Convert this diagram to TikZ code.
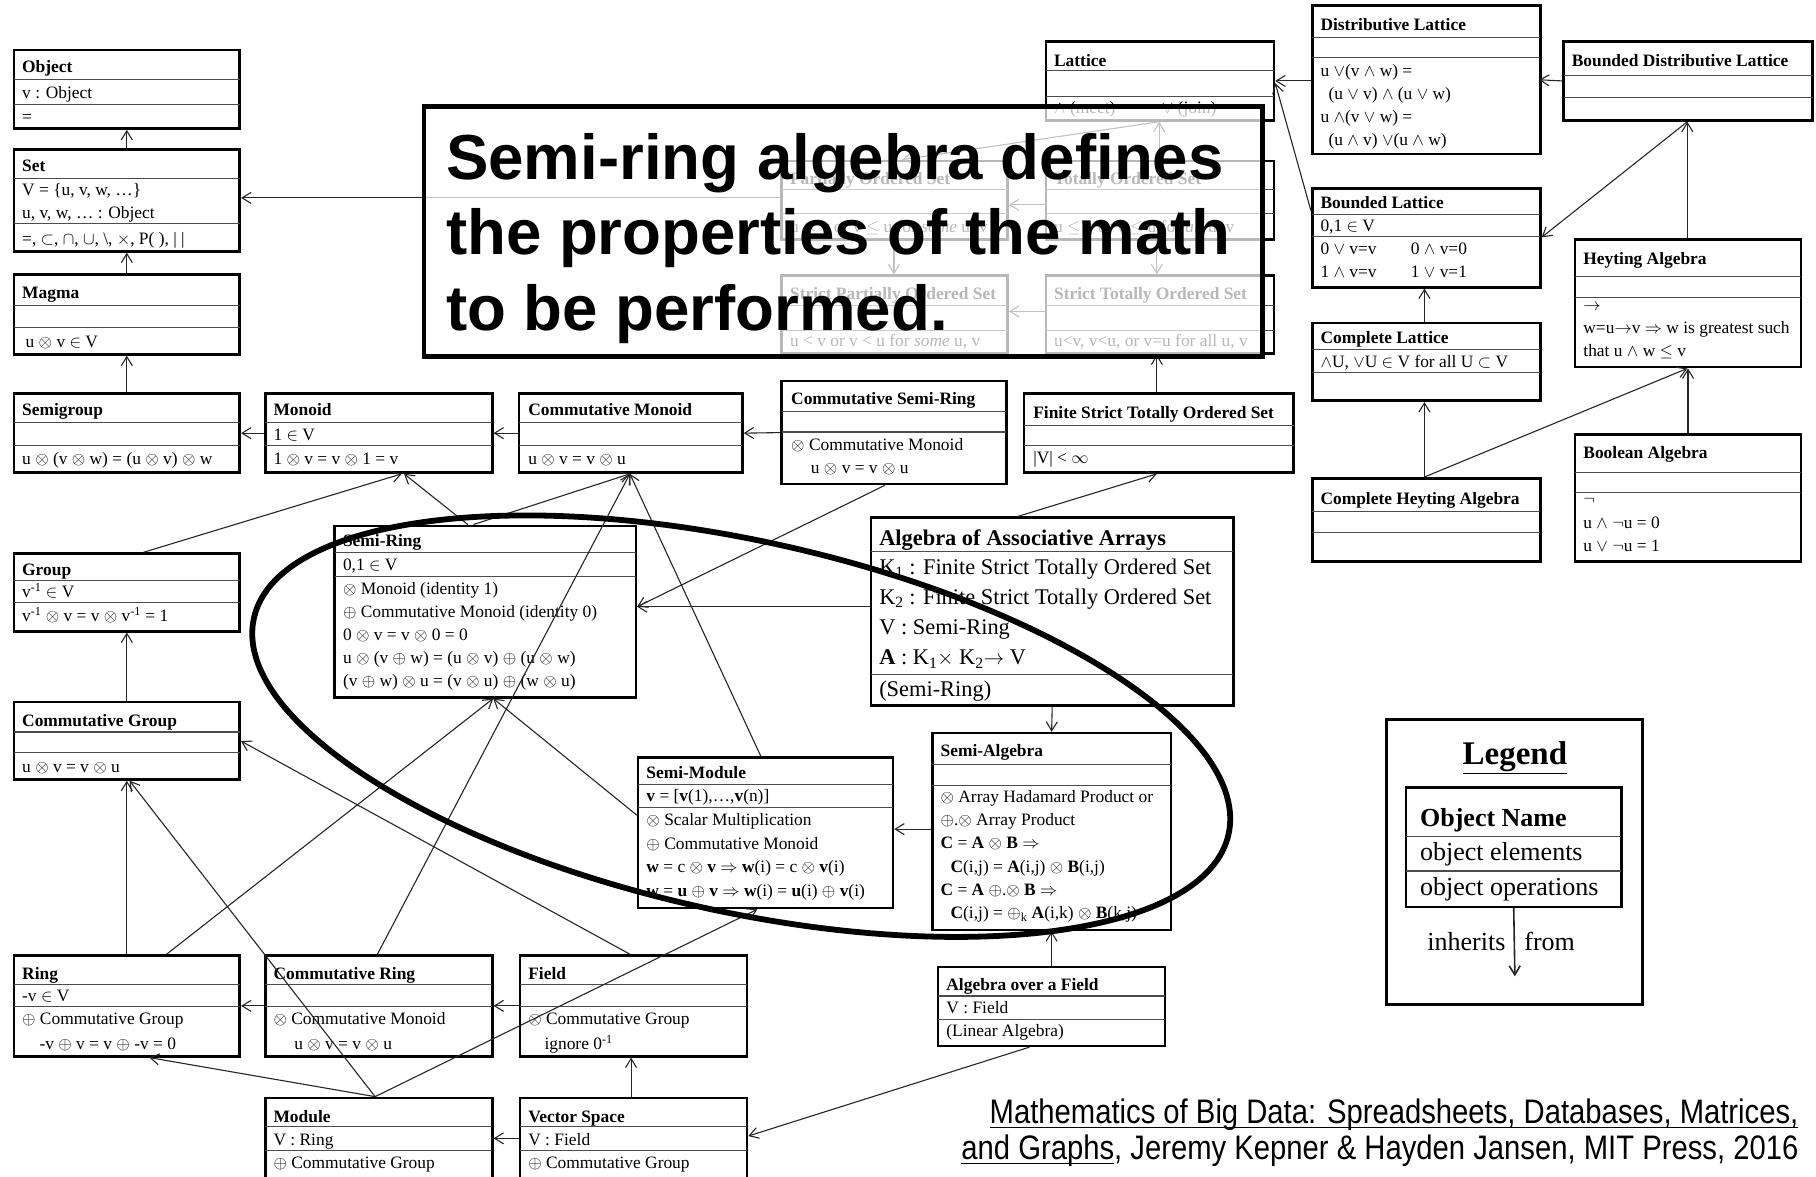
\documentclass[tikz,border=0pt]{standalone}
\usepackage{fontspec}
\setmainfont{Liberation Serif}
\newfontfamily\notefont{Liberation Sans}
\newfontfamily\citefont[FakeStretch=0.86]{Liberation Sans}
\usetikzlibrary{arrows.meta,fit,calc}

% type sizes
\newcommand\fttl{\fontsize{17.4}{20}\selectfont\bfseries}
\newcommand\ftxt{\fontsize{17.4}{20}\selectfont}
\newcommand\fbigttl{\fontsize{22.4}{26}\selectfont\bfseries}
\newcommand\fbig{\fontsize{22.4}{26}\selectfont}
\newcommand\fnote{\notefont\bfseries\fontsize{63.6}{75}\selectfont}
\newcommand\fcite{\citefont\fontsize{34}{36}\selectfont}
\newcommand\flegttl{\fontsize{33}{36}\selectfont\bfseries}
\newcommand\fleg{\fontsize{26}{30}\selectfont}

% underline drawn at a fixed depth below the baseline
\newsavebox\ulinebox
\newcommand\ultext[1]{\sbox\ulinebox{#1}\rlap{\rule[-5pt]{\wd\ulinebox}{1.6pt}}\usebox\ulinebox}

% class box: name, x1, y1, x2, y2, first divider, second divider
\newcommand\ubox[7]{%
  \node[umlframe, fit={(#2,#3) (#4,#5)}] (#1) {};
  \draw[divider] (#2,#6) -- (#4,#6) (#2,#7) -- (#4,#7);}
% stacked text lines: [style] name, x, first baseline, line step, list of lines
\newcommand\rows[6][row]{%
  \foreach \rowtext [count=\ri] in {#6}
    {\node[#1] (#2-\ri) at (#3,{#4+#5*(\ri-1)}) {\rowtext};}}

\begin{document}
\begin{tikzpicture}[x=1.1582pt,y=-1.1582pt,
  umlframe/.style={draw=black, line width=2.6pt, inner sep=0pt},
  divider/.style={draw=black!70, line width=1.1pt},
  ttl/.style={anchor=base west, inner sep=0pt, font=\fttl},
  row/.style={anchor=base west, inner sep=0pt, font=\ftxt},
  bigttl/.style={anchor=base west, inner sep=0pt, font=\fbigttl},
  bigrow/.style={anchor=base west, inner sep=0pt, font=\fbig},
  inh/.style={draw=black!85, line width=1.1pt, -{Straight Barb[length=9pt,width=11pt]}},
  notetext/.style={anchor=base west, inner sep=0pt, font=\fnote},
  citetext/.style={anchor=base east, inner sep=0pt, font=\fcite},
]
\path[use as bounding box, fill=white] (0,0) rectangle (1568,1016);
\clip (0,0) rectangle (1568,1016);

% ---------------- left column ----------------
\ubox{obj}{12}{43}{207}{111}{69}{90}
\node[ttl] (obj-t) at (19,63) {Object};
\node[row] (obj-e) at (19,85) {v : Object};
\node[row] (obj-o) at (19,106) {=};

\ubox{set}{12}{129}{207}{217}{154}{193}
\node[ttl] (set-t) at (19,148) {Set};
\rows{set-e}{19}{169}{20}{{V = \{u, v, w, \dots\}}, {u, v, w, \dots{} : Object}}
\node[row] (set-o) at (19,211) {=, $\subset$, $\cap$, $\cup$, \textbackslash, $\times$, P( ), | |};

\ubox{magma}{12}{237}{207}{306}{264}{283}
\node[ttl] (magma-t) at (19,258) {Magma};
\node[row] (magma-o) at (22,300) {u $\otimes$ v $\in$ V};

\ubox{sgroup}{12}{340}{207}{408}{365}{385}
\node[ttl] (sgroup-t) at (19,359) {Semigroup};
\node[row] (sgroup-o) at (19,401) {u $\otimes$ (v $\otimes$ w) = (u $\otimes$ v) $\otimes$ w};

\ubox{group}{12}{478}{207}{545}{501}{520}
\node[ttl] (group-t) at (19,497) {Group};
\node[row] (group-e) at (19,516) {v\textsuperscript{-1} $\in$ V};
\node[row] (group-o) at (19,537) {v\textsuperscript{-1} $\otimes$ v = v $\otimes$ v\textsuperscript{-1} = 1};

\ubox{cgroup}{12}{606}{207}{673}{632}{650}
\node[ttl] (cgroup-t) at (19,627) {Commutative Group};
\node[row] (cgroup-o) at (19,667) {u $\otimes$ v = v $\otimes$ u};

\ubox{ring}{12}{825}{207}{912}{850}{869}
\node[ttl] (ring-t) at (19,846) {Ring};
\node[row] (ring-e) at (19,865) {-v $\in$ V};
\node[row] (ring-o1) at (19,885) {$\oplus$ Commutative Group};
\node[row] (ring-o2) at (34,906) {-v $\oplus$ v = v $\oplus$ -v = 0};

% ---------------- monoid row ----------------
\ubox{monoid}{229}{340}{425}{408}{365}{385}
\node[ttl] (monoid-t) at (236,359) {Monoid};
\node[row] (monoid-e) at (236,380) {1 $\in$ V};
\node[row] (monoid-o) at (236,401) {1 $\otimes$ v = v $\otimes$ 1 = v};

\ubox{cmon}{448}{340}{641}{408}{365}{385}
\node[ttl] (cmon-t) at (456,359) {Commutative Monoid};
\node[row] (cmon-o) at (456,401) {u $\otimes$ v = v $\otimes$ u};

\ubox{csr}{675}{329}{869}{418}{355}{373}
\node[ttl] (csr-t) at (683,349) {Commutative Semi-Ring};
\node[row] (csr-o1) at (683,389) {$\otimes$ Commutative Monoid};
\node[row] (csr-o2) at (700,409) {u $\otimes$ v = v $\otimes$ u};

\ubox{fstos}{884}{340}{1117}{408}{367}{385}
\node[ttl] (fstos-t) at (892,361) {Finite Strict Totally Ordered Set};
\node[row] (fstos-o) at (892,400) {|V| < $\infty$};

% ---------------- semi-ring family ----------------
\ubox{sring}{289}{454}{549}{602}{477}{498}
\node[ttl] (sring-t) at (296,472) {Semi-Ring};
\node[row] (sring-e) at (296,493) {0,1 $\in$ V};
\rows{sring-o}{296}{513}{20}{{$\otimes$ Monoid (identity 1)}, {$\oplus$ Commutative Monoid (identity 0)}, {0 $\otimes$ v = v $\otimes$ 0 = 0}, {u $\otimes$ (v $\oplus$ w) = (u $\otimes$ v) $\oplus$ (u $\otimes$ w)}, {(v $\oplus$ w) $\otimes$ u = (v $\otimes$ u) $\oplus$ (w $\otimes$ u)}}

\ubox{aaa}{752}{447}{1065}{609}{476}{582}
\node[bigttl] (aaa-t) at (759,471) {Algebra of Associative Arrays};
\rows[bigrow]{aaa-e}{759}{496}{26}{{K\textsubscript{1} : Finite Strict Totally Ordered Set}, {K\textsubscript{2} : Finite Strict Totally Ordered Set}, {V : Semi-Ring}, {\textbf{A} : K\textsubscript{1}$\times$ K\textsubscript{2}$\rightarrow$ V}}
\node[bigrow] (aaa-o) at (759,601) {(Semi-Ring)};

\ubox{smod}{551}{654}{771}{784}{677}{697}
\node[ttl] (smod-t) at (558,672) {Semi-Module};
\node[row] (smod-e) at (558,692) {\textbf{v} = [\textbf{v}(1),\dots,\textbf{v}(n)]};
\rows{smod-o}{558}{713}{20.3}{{$\otimes$ Scalar Multiplication}, {$\oplus$ Commutative Monoid}, {\textbf{w} = c $\otimes$ \textbf{v} $\Rightarrow$ \textbf{w}(i) = c $\otimes$ \textbf{v}(i)}, {\textbf{w} = \textbf{u} $\oplus$ \textbf{v} $\Rightarrow$ \textbf{w}(i) = \textbf{u}(i) $\oplus$ \textbf{v}(i)}}

\ubox{salg}{805}{633}{1011}{803}{660}{678}
\node[ttl] (salg-t) at (812,653) {Semi-Algebra};
\rows{salg-o}{812}{693}{20}{{$\otimes$ Array Hadamard Product or}, {$\oplus$.$\otimes$ Array Product}, {\textbf{C} = \textbf{A} $\otimes$ \textbf{B} $\Rightarrow$}, {\hspace{10pt}\textbf{C}(i,j) = \textbf{A}(i,j) $\otimes$ \textbf{B}(i,j)}, {\textbf{C} = \textbf{A} $\oplus$.$\otimes$ \textbf{B} $\Rightarrow$}, {\hspace{10pt}\textbf{C}(i,j) = $\oplus$\textsubscript{k} \textbf{A}(i,k) $\otimes$ \textbf{B}(k,j)}}

\ubox{aof}{810}{835}{1006}{903}{860}{880}
\node[ttl] (aof-t) at (817,855) {Algebra over a Field};
\node[row] (aof-e) at (817,875) {V : Field};
\node[row] (aof-o) at (817,895) {(Linear Algebra)};

\ubox{cring}{229}{825}{425}{912}{850}{869}
\node[ttl] (cring-t) at (236,846) {Commutative Ring};
\node[row] (cring-o1) at (236,885) {$\otimes$ Commutative Monoid};
\node[row] (cring-o2) at (254,906) {u $\otimes$ v = v $\otimes$ u};

\ubox{field}{449}{825}{645}{912}{850}{869}
\node[ttl] (field-t) at (456,846) {Field};
\node[row] (field-o1) at (456,885) {$\otimes$ Commutative Group};
\node[row] (field-o2) at (470,906) {ignore 0\textsuperscript{-1}};

\ubox{module}{229}{948}{425}{1030}{973}{993}
\node[ttl] (module-t) at (236,969) {Module};
\node[row] (module-e) at (236,989) {V : Ring};
\node[row] (module-o) at (236,1009) {$\oplus$ Commutative Group};

\ubox{vspace}{449}{948}{645}{1030}{973}{993}
\node[ttl] (vspace-t) at (456,969) {Vector Space};
\node[row] (vspace-e) at (456,989) {V : Field};
\node[row] (vspace-o) at (456,1009) {$\oplus$ Commutative Group};

% ---------------- order / lattice family ----------------
\ubox{lattice}{903}{36}{1100}{104}{61}{83}
\node[ttl] (lattice-t) at (910,57) {Lattice};
\node[row] (lattice-o1) at (910,98) {$\wedge$ (meet)};
\node[row] (lattice-o2) at (1003,98) {$\vee$ (join)};

\ubox{poset}{675}{139}{870}{207}{164}{184}
\node[ttl] (poset-t) at (682,159) {Partially Ordered Set};
\node[row] (poset-o) at (682,201) {u $\leq$ v or v $\leq$ u for \textit{some} u, v};

\ubox{toset}{903}{139}{1100}{207}{164}{184}
\node[ttl] (toset-t) at (910,159) {Totally Ordered Set};
\node[row] (toset-o) at (910,201) {u $\leq$ v or v $\leq$ u for \textit{all} u, v};

\ubox{sposet}{675}{238}{870}{305}{264}{285}
\node[ttl] (sposet-t) at (682,259) {Strict Partially Ordered Set};
\node[row] (sposet-o) at (682,299) {u < v or v < u for \textit{some} u, v};

\ubox{stoset}{903}{238}{1100}{305}{264}{285}
\node[ttl] (stoset-t) at (910,259) {Strict Totally Ordered Set};
\node[row] (stoset-o) at (910,299) {u<v, v<u, or v=u for all u, v};

\ubox{dlat}{1133}{5}{1330}{133}{32}{50}
\node[ttl] (dlat-t) at (1140,26) {Distributive Lattice};
\rows{dlat-o}{1140}{66}{20}{{u $\vee$(v $\wedge$ w) =}, {\hspace{8pt}(u $\vee$ v) $\wedge$ (u $\vee$ w)}, {u $\wedge$(v $\vee$ w) =}, {\hspace{8pt}(u $\wedge$ v) $\vee$(u $\wedge$ w)}}

\ubox{bdlat}{1350}{36}{1565}{104}{65}{84}
\node[ttl] (bdlat-t) at (1357,57) {Bounded Distributive Lattice};

\ubox{blat}{1133}{163}{1330}{248}{185}{204}
\node[ttl] (blat-t) at (1140,180) {Bounded Lattice};
\node[row] (blat-e) at (1140,200) {0,1 $\in$ V};
\rows{blat-a}{1140}{220}{20}{{0 $\vee$ v=v}, {1 $\wedge$ v=v}}
\rows{blat-b}{1218}{220}{20}{{0 $\wedge$ v=0}, {1 $\vee$ v=1}}

\ubox{clat}{1133}{279}{1330}{346}{302}{322}
\node[ttl] (clat-t) at (1140,297) {Complete Lattice};
\node[row] (clat-e) at (1140,317) {$\wedge$U, $\vee$U $\in$ V for all U $\subset$ V};

\ubox{cha}{1133}{413}{1330}{485}{442}{460}
\node[ttl] (cha-t) at (1140,436) {Complete Heyting Algebra};

\ubox{heyt}{1360}{207}{1555}{317}{239}{257}
\node[ttl] (heyt-t) at (1367,228) {Heyting Algebra};
\rows{heyt-o}{1367}{268}{20}{{$\rightarrow$}, {w=u$\rightarrow$v $\Rightarrow$ w is greatest such}, {that u $\wedge$ w $\leq$ v}}

\ubox{bool}{1360}{375}{1555}{485}{408}{425}
\node[ttl] (bool-t) at (1367,396) {Boolean Algebra};
\rows{bool-o}{1367}{436}{20}{{$\neg$}, {u $\wedge$ $\neg$u = 0}, {u $\vee$ $\neg$u = 1}}

% ---------------- inheritance connectors ----------------
\draw[inh] (set.north) -- (obj.south);
\draw[inh] (magma.north) -- (set.south);
\draw[inh] (sgroup.north) -- (magma.south);
\draw[inh] (monoid.west) -- (sgroup.east);
\draw[inh] (cmon.west) -- (monoid.east);
\draw[inh] (csr.west) -- (cmon.east);
\draw[inh] ($(group.north west)+(113,0)$) -- ($(monoid.south west)+(119,0)$);
\draw[inh] ($(sring.north west)+(116,0)$) -- ($(monoid.south west)+(121,0)$);
\draw[inh] ($(sring.north west)+(121,0)$) -- ($(cmon.south west)+(97,0)$);
\draw[inh] (cgroup.north) -- (group.south);
\draw[inh] (ring.north) -- (cgroup.south);
\draw[inh] ($(ring.north west)+(133,0)$) -- ($(sring.south west)+(138,0)$);
\draw[inh] ($(module.north west)+(96,0)$) -- ($(cgroup.south west)+(101,0)$);
\draw[inh] ($(module.north west)+(96,0)$) -- ($(ring.south west)+(118,0)$);
\draw[inh] ($(module.north west)+(96,0)$) -- ($(smod.south west)+(104,0)$);
\draw[inh] (cring.west) -- (ring.east);
\draw[inh] ($(cring.north west)+(98,0)$) -- ($(cmon.south west)+(97,0)$);
\draw[inh] (field.west) -- (cring.east);
\draw[inh] ($(field.north west)+(96,0)$) -- ($(cgroup.north east)+(0,35)$);
\draw[inh] ($(vspace.north west)+(97,0)$) -- ($(field.south west)+(97,0)$);
\draw[inh] ($(vspace.north west)+(0,36)$) -- ($(module.north east)+(0,36)$);
\draw[inh] ($(aof.south west)+(80,0)$) -- ($(vspace.north east)+(0,34)$);
\draw[inh] (aof.north) -- (salg.south);
\draw[inh] (aaa.south) -- (salg.north);
\draw[inh] ($(salg.north west)+(0,84)$) -- ($(smod.north east)+(0,63)$);
\draw[inh] ($(aaa.north west)+(0,78)$) -- ($(sring.north east)+(0,71)$);
\draw[inh] ($(aaa.north west)+(128,0)$) -- ($(fstos.south west)+(116,0)$);
\draw[inh] ($(csr.south west)+(90,0)$) -- ($(sring.north east)+(0,71)$);
\draw[inh] ($(smod.north west)+(107,0)$) -- ($(cmon.south west)+(97,0)$);
\draw[inh] ($(smod.north west)+(0,51)$) -- ($(sring.south west)+(138,0)$);
\draw[inh] ($(fstos.north west)+(116,0)$) -- ($(stoset.south west)+(97,0)$);
\draw[inh] ($(stoset.north west)+(0,32)$) -- ($(sposet.north east)+(0,32)$);
\draw[inh] ($(toset.north west)+(0,39)$) -- ($(poset.north east)+(0,39)$);
\draw[inh] ($(poset.south west)+(98,0)$) -- ($(sposet.north west)+(98,0)$);
\draw[inh] ($(toset.south west)+(97,0)$) -- ($(stoset.north west)+(97,0)$);
\draw[inh] ($(poset.north west)+(0,33)$) -- ($(set.north east)+(0,43)$);
\draw[inh] ($(lattice.south west)+(99,0)$) -- ($(poset.north west)+(105,0)$);
\draw[inh] ($(toset.north west)+(99,0)$) -- ($(lattice.south west)+(99,0)$);
\draw[inh] ($(dlat.north west)+(0,66)$) -- ($(lattice.north east)+(0,35)$);
\draw[inh] ($(blat.north west)+(0,20)$) -- ($(lattice.north east)+(0,37)$);
\draw[inh] ($(bdlat.north west)+(0,35)$) -- ($(dlat.north west)+(197,65)$);
\draw[inh] ($(bdlat.south west)+(108,0)$) -- ($(blat.north east)+(0,43)$);
\draw[inh] ($(clat.north west)+(98,0)$) -- ($(blat.south west)+(98,0)$);
\draw[inh] ($(cha.north west)+(98,0)$) -- ($(clat.south west)+(98,0)$);
\draw[inh] ($(cha.north west)+(98,0)$) -- ($(heyt.south west)+(98,0)$);
\draw[inh] ($(heyt.north west)+(98,0)$) -- ($(bdlat.south west)+(108,0)$);
\draw[inh] (bool.north) -- (heyt.south);

% ---------------- caption panel over the order family ----------------
\node[fit={(366,92) (1090,308)}, inner sep=0pt, draw=black, line width=4.6pt,
      fill=white, fill opacity=0.72, draw opacity=1] (note) {};
\node[notetext] (note-1) at (385,155) {Semi-ring algebra defines};
\node[notetext] (note-2) at (385,220) {the properties of the math};
\node[notetext] (note-3) at (385,285) {to be performed.};

% ---------------- highlight ring ----------------
\draw[line width=5.8pt, rotate around={-12.5:(640,627)}] (640,627) ellipse [x radius=431, y radius=160];

% ---------------- legend ----------------
\node[fit={(1197,621) (1418,867)}, inner sep=0pt, draw=black, line width=3pt] (legend) {};
\node[anchor=base, inner sep=0pt, font=\flegttl] (legend-title) at (1308,660) {\underline{Legend}};
\node[umlframe, fit={(1214,680) (1400,783)}] (legend-box) {};
\draw[divider] (1214,722) -- (1400,722) (1214,752) -- (1400,752);
\node[anchor=base west, inner sep=0pt, font=\fleg\bfseries] (legend-name) at (1226,714) {Object Name};
\node[anchor=base west, inner sep=0pt, font=\fleg] (legend-elem) at (1226,743) {object elements};
\node[anchor=base west, inner sep=0pt, font=\fleg] (legend-ops) at (1226,773) {object operations};
\coordinate (legend-tip) at (1308,843);
\draw[inh, line width=1.6pt] (legend-box.south) -- (legend-tip);
\node[anchor=base east, inner sep=0pt, font=\fleg] (legend-inh) at (1300,821) {inherits};
\node[anchor=base west, inner sep=0pt, font=\fleg] (legend-from) at (1316,821) {from};

% ---------------- reference ----------------
\node[citetext] (cite-1) at (1553,970) {\ultext{Mathematics of Big Data: Spreadsheets, Databases, Matrices,}};
\node[citetext] (cite-2) at (1553,1001) {\ultext{and Graphs}, Jeremy Kepner \& Hayden Jansen, MIT Press, 2016};
\end{tikzpicture}
\end{document}
